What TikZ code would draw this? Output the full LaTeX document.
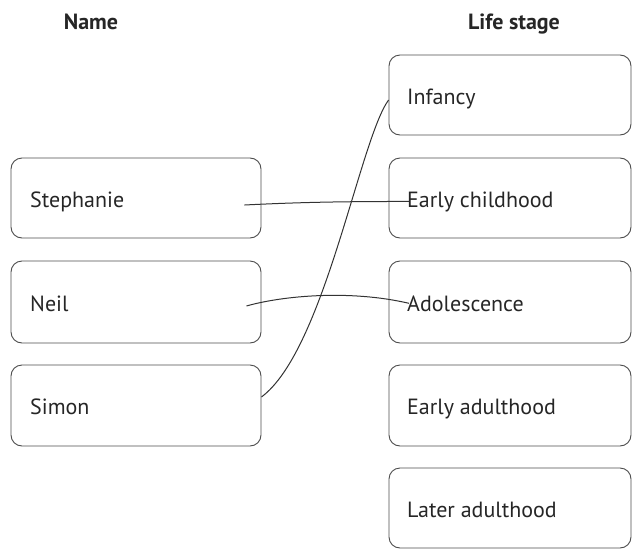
\documentclass[tikz,border=0pt]{standalone}
\usepackage{fontspec}
\setmainfont{PT Sans}
\begin{document}
\begin{tikzpicture}[x=1pt,y=-1pt,
  box/.style={draw=black!70, line width=0.9pt, rounded corners=11pt, minimum height=80pt, inner sep=0pt},
  lbox/.style={box, minimum width=250pt},
  rbox/.style={box, minimum width=242pt},
  lbl/.style={anchor=base west, inner sep=0pt, font=\fontsize{22}{26}\selectfont, text=black!85},
  hdr/.style={anchor=base, inner sep=0pt, font=\fontsize{22}{26}\selectfont\bfseries, text=black!85},
  link/.style={draw=black!80, line width=1pt}]
\useasboundingbox (0,0) rectangle (632,549);
\node[hdr] (hname) at (91,29) {Name};
\node[hdr] (hstage) at (514,29) {Life stage};
% left boxes
\node[lbox] (steph) at (136,198) {};
\node[lbox, minimum height=82pt] (neil) at (136,302) {};
\node[lbox, minimum height=81pt] (simon) at (136,405.5) {};
\node[lbl] (tsteph) at (30,207) {Stephanie};
\node[lbl] (tneil) at (30,311) {Neil};
\node[lbl] (tsimon) at (30,414.5) {Simon};
% right boxes
\node[rbox] (inf) at (510,95) {};
\node[rbox] (ech) at (510,198) {};
\node[rbox, minimum height=82pt] (ado) at (510,302) {};
\node[rbox, minimum height=81pt] (ead) at (510,405.5) {};
\node[rbox] (lad) at (510,508) {};
\node[lbl] (tinf) at (407,104) {Infancy};
\node[lbl] (tech) at (407,207) {Early childhood};
\node[lbl] (tado) at (407,311) {Adolescence};
\node[lbl] (tead) at (407,414.5) {Early adulthood};
\node[lbl] (tlad) at (407,517) {Later adulthood};
% connectors
\draw[link] ([xshift=-17pt,yshift=-7pt]steph.east) .. controls +(60,-3) and +(-60,0) .. ([xshift=2pt]tech.west);
\draw[link] ([xshift=-15pt,yshift=-4pt]neil.east) .. controls +(35,-10) and +(-60,-14) .. ([xshift=2pt]tado.west);
\draw[link] ([yshift=8.5pt]simon.east) .. controls +(63,-47) and +(-29,40) .. ([yshift=-5pt]inf.west);
\end{tikzpicture}
\end{document}
